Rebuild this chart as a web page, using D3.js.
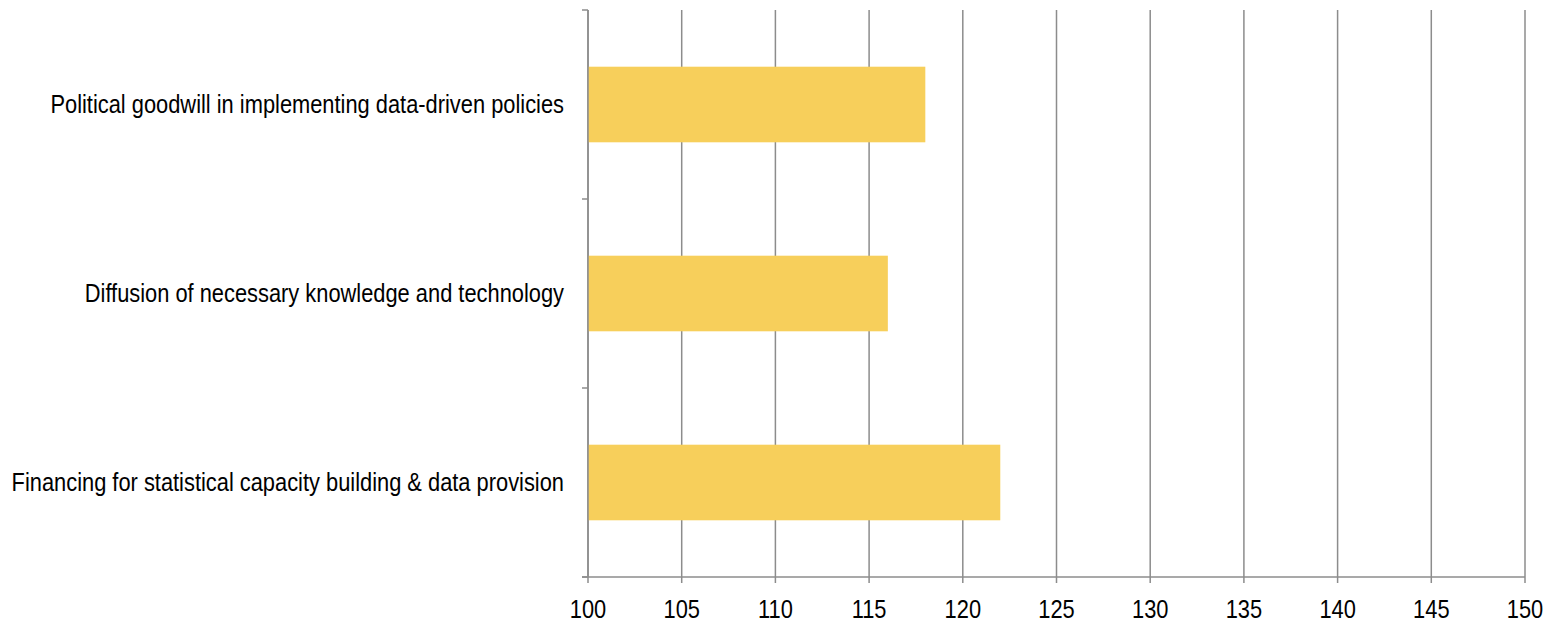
<!DOCTYPE html>
<html>
<head>
<meta charset="utf-8">
<script src="https://cdn.jsdelivr.net/npm/d3@7"></script>
<style>
  html, body { margin: 0; padding: 0; background: #fff; }
  svg { display: block; }
  text { font-family: "Liberation Sans", Arial, sans-serif; fill: #000; }
</style>
</head>
<body>
<svg id="chart" width="1548" height="624"></svg>
<script>
// Categories listed top to bottom
const categories = [
  "Political goodwill in implementing data-driven policies",
  "Diffusion of necessary knowledge and technology",
  "Financing for statistical capacity building & data provision"
];
const values = [118, 116, 122];
const xTicks = [100, 105, 110, 115, 120, 125, 130, 135, 140, 145, 150];

const svg = d3.select("#chart");
const plotLeft = 588, plotRight = 1525, plotTop = 10, plotBottom = 577;
const gridColor = "#8c8c8c";
const fontSize = 25.5;
const narrow = 0.857; // horizontal condensing for a narrow sans look

const x = d3.scaleLinear().domain([100, 150]).range([plotLeft, plotRight]);
const y = d3.scaleBand().domain(categories).range([plotTop, plotBottom])
  .paddingInner(0.6).paddingOuter(0.3);

// Vertical gridlines with tick stubs below the axis
svg.append("g")
  .selectAll("line")
  .data(xTicks)
  .join("line")
  .attr("x1", d => x(d)).attr("x2", d => x(d))
  .attr("y1", plotTop).attr("y2", plotBottom + 6)
  .attr("stroke", gridColor).attr("stroke-width", 1.5);

// Bars
svg.append("g")
  .selectAll("rect")
  .data(categories)
  .join("rect")
  .attr("x", x(100))
  .attr("y", d => y(d))
  .attr("width", (d, i) => x(values[i]) - x(100))
  .attr("height", y.bandwidth())
  .attr("fill", "#f7cf5b");

// Category axis: line plus boundary ticks between categories
const bounds = d3.range(categories.length + 1)
  .map(i => plotTop + i * (plotBottom - plotTop) / categories.length);
svg.append("line")
  .attr("x1", plotLeft).attr("x2", plotLeft).attr("y1", plotTop).attr("y2", plotBottom)
  .attr("stroke", gridColor).attr("stroke-width", 1.5);
svg.append("g")
  .selectAll("line")
  .data(bounds)
  .join("line")
  .attr("x1", plotLeft - 6).attr("x2", plotLeft)
  .attr("y1", d => d).attr("y2", d => d)
  .attr("stroke", gridColor).attr("stroke-width", 1.5);

// Value axis baseline
svg.append("line")
  .attr("x1", plotLeft - 6).attr("x2", plotRight).attr("y1", plotBottom).attr("y2", plotBottom)
  .attr("stroke", gridColor).attr("stroke-width", 1.5);

// Tick labels
svg.append("g")
  .selectAll("text")
  .data(xTicks)
  .join("text")
  .attr("transform", d => `translate(${x(d)},618) scale(${narrow},1)`)
  .attr("text-anchor", "middle")
  .attr("font-size", fontSize)
  .text(d => d);

// Category labels
svg.append("g")
  .selectAll("text")
  .data(categories)
  .join("text")
  .attr("transform", d => `translate(${plotLeft - 24},${y(d) + y.bandwidth() / 2}) scale(${narrow},1)`)
  .attr("dy", "0.35em")
  .attr("text-anchor", "end")
  .attr("font-size", fontSize)
  .text(d => d);
</script>
</body>
</html>
